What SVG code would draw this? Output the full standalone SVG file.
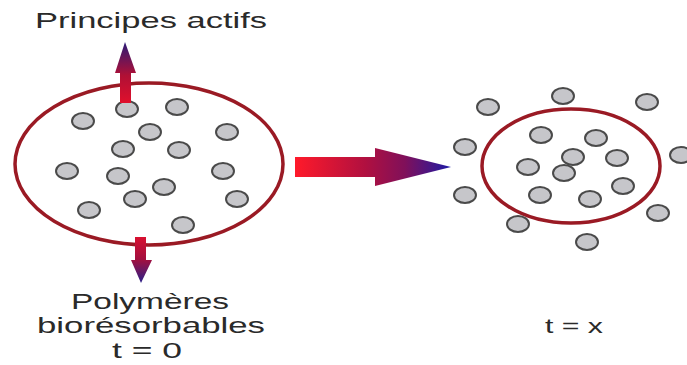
<svg xmlns="http://www.w3.org/2000/svg" width="687" height="365" viewBox="0 0 687 365">
  <defs>
    <linearGradient id="gUp" x1="0" y1="1" x2="0" y2="0">
      <stop offset="0" stop-color="#e0102c"/>
      <stop offset="0.45" stop-color="#b01035"/>
      <stop offset="1" stop-color="#2a1a78"/>
    </linearGradient>
    <linearGradient id="gDown" x1="0" y1="0" x2="0" y2="1">
      <stop offset="0" stop-color="#d81030"/>
      <stop offset="0.5" stop-color="#a01040"/>
      <stop offset="1" stop-color="#2a208a"/>
    </linearGradient>
    <linearGradient id="gRight" x1="295" y1="0" x2="452" y2="0" gradientUnits="userSpaceOnUse">
      <stop offset="0" stop-color="#ff1a2a"/>
      <stop offset="0.45" stop-color="#b01040"/>
      <stop offset="0.7" stop-color="#80105a"/>
      <stop offset="1" stop-color="#1a1aa8"/>
    </linearGradient>
    <style>
      .shell { fill: none; stroke: #9a1a24; stroke-width: 3.5; }
      .dot { fill: #c6c6ca; stroke: #4a4a4a; stroke-width: 2; }
      .lbl { font-family: "Liberation Sans", Arial, sans-serif; fill: #2a2a2a; text-anchor: middle; }
    </style>
  </defs>
  <rect width="687" height="365" fill="#ffffff"/>

  <g id="capsule-t0">
    <ellipse class="shell" cx="149" cy="164" rx="134" ry="81"/>
    <ellipse class="dot" cx="127" cy="109" rx="11" ry="8"/>
    <ellipse class="dot" cx="177" cy="107" rx="11" ry="8"/>
    <ellipse class="dot" cx="83" cy="121" rx="11" ry="8"/>
    <ellipse class="dot" cx="150" cy="132" rx="11" ry="8"/>
    <ellipse class="dot" cx="227" cy="132" rx="11" ry="8"/>
    <ellipse class="dot" cx="123" cy="149" rx="11" ry="8"/>
    <ellipse class="dot" cx="179" cy="150" rx="11" ry="8"/>
    <ellipse class="dot" cx="67" cy="171" rx="11" ry="8"/>
    <ellipse class="dot" cx="118" cy="176" rx="11" ry="8"/>
    <ellipse class="dot" cx="223" cy="171" rx="11" ry="8"/>
    <ellipse class="dot" cx="164" cy="187" rx="11" ry="8"/>
    <ellipse class="dot" cx="135" cy="199" rx="11" ry="8"/>
    <ellipse class="dot" cx="237" cy="199" rx="11" ry="8"/>
    <ellipse class="dot" cx="89" cy="210" rx="11" ry="8"/>
    <ellipse class="dot" cx="183" cy="225" rx="11" ry="8"/>
  </g>

  <g id="capsule-tx">
    <ellipse class="shell" cx="571" cy="166" rx="89" ry="57"/>
    <ellipse class="dot" cx="488" cy="107" rx="11" ry="8"/>
    <ellipse class="dot" cx="563" cy="96" rx="11" ry="8"/>
    <ellipse class="dot" cx="647" cy="102" rx="11" ry="8"/>
    <ellipse class="dot" cx="465" cy="147" rx="11" ry="8"/>
    <ellipse class="dot" cx="541" cy="135" rx="11" ry="8"/>
    <ellipse class="dot" cx="596" cy="138" rx="11" ry="8"/>
    <ellipse class="dot" cx="573" cy="157" rx="11" ry="8"/>
    <ellipse class="dot" cx="617" cy="158" rx="11" ry="8"/>
    <ellipse class="dot" cx="681" cy="155" rx="11" ry="8"/>
    <ellipse class="dot" cx="528" cy="167" rx="11" ry="8"/>
    <ellipse class="dot" cx="564" cy="173" rx="11" ry="8"/>
    <ellipse class="dot" cx="465" cy="195" rx="11" ry="8"/>
    <ellipse class="dot" cx="540" cy="195" rx="11" ry="8"/>
    <ellipse class="dot" cx="623" cy="186" rx="11" ry="8"/>
    <ellipse class="dot" cx="590" cy="199" rx="11" ry="8"/>
    <ellipse class="dot" cx="658" cy="213" rx="11" ry="8"/>
    <ellipse class="dot" cx="518" cy="224" rx="11" ry="8"/>
    <ellipse class="dot" cx="587" cy="242" rx="11" ry="8"/>
  </g>

  <g id="connectors">
    <path d="M120,103 L120,73 L115,73 L125,42 L136,73 L131,73 L131,103 Z" fill="url(#gUp)"/>
    <path d="M135,237 L146,237 L146,260 L152,260 L141,283 L131,260 L135,260 Z" fill="url(#gDown)"/>
    <path d="M295,157 L375,157 L375,148 L451,167 L375,186 L375,177 L295,177 Z" fill="url(#gRight)"/>
  </g>

  <g id="label-principes">
    <text class="lbl" x="151" y="28" font-size="22" textLength="232" lengthAdjust="spacingAndGlyphs">Principes actifs</text>
  </g>
  <g id="label-polymeres">
    <text class="lbl" x="150" y="309" font-size="22.5" textLength="158" lengthAdjust="spacingAndGlyphs">Polymères</text>
    <text class="lbl" x="151" y="333" font-size="22.5" textLength="228" lengthAdjust="spacingAndGlyphs">biorésorbables</text>
    <text class="lbl" x="147" y="358" font-size="22.5" textLength="70" lengthAdjust="spacingAndGlyphs">t = 0</text>
  </g>
  <g id="label-tx">
    <text class="lbl" x="574" y="333" font-size="21" textLength="58" lengthAdjust="spacingAndGlyphs">t = x</text>
  </g>
</svg>
